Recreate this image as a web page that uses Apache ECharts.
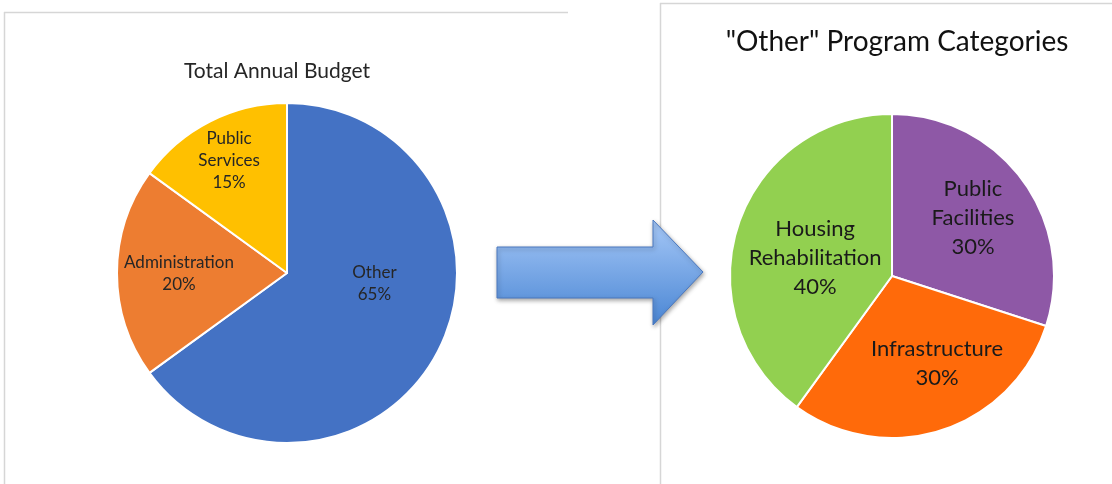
<!DOCTYPE html>
<html>
<head>
<meta charset="utf-8">
<script src="https://cdn.jsdelivr.net/npm/echarts@6/dist/echarts.min.js"></script>
<style>
html,body{margin:0;padding:0;background:#fff;}
#chart{width:1112px;height:484px;}
</style>
</head>
<body>
<div id="chart"></div>
<script>
// Data
var leftTitle = 'Total Annual Budget';
var leftCategories = ['Other', 'Administration', 'Public\nServices'];
var leftValues = [65, 20, 15];
var rightTitle = '"Other" Program Categories';
var rightCategories = ['Public\nFacilities', 'Infrastructure', 'Housing\nRehabilitation'];
var rightValues = [30, 30, 40];

// Styles (kept separate from data)
var leftColors = ['#4472C4', '#ED7D31', '#FFC000'];
var rightColors = ['#8E58A6', '#FF6A0A', '#92D050'];
var leftOffsets = [[9, -29], [-20, 1], [-18, -34]];
var rightOffsets = [[13, -9], [19, 8], [3, 8]];

function build(cats, vals, colors, offsets) {
  return cats.map(function (c, i) {
    return {
      name: c,
      value: vals[i],
      itemStyle: { color: colors[i] },
      label: { offset: offsets[i] }
    };
  });
}

var chart = echarts.init(document.getElementById('chart'), null, { renderer: 'canvas' });
var font = 'Lato, "Open Sans", sans-serif';

chart.setOption({
  backgroundColor: '#ffffff',
  animation: false,
  title: [
    {
      text: leftTitle, left: 272, top: 56, textAlign: 'center',
      textStyle: { fontFamily: font, fontSize: 21, fontWeight: 'normal', color: '#262626' }
    },
    {
      text: rightTitle, left: 892, top: 23, textAlign: 'center',
      textStyle: { fontFamily: font, fontSize: 28, fontWeight: 'normal', color: '#111111' }
    }
  ],
  graphic: [
    { type: 'line', shape: { x1: 4, y1: 12.5, x2: 568, y2: 12.5 }, style: { stroke: '#d6d6d6', lineWidth: 1.5 }, z: 0 },
    { type: 'line', shape: { x1: 4.5, y1: 12, x2: 4.5, y2: 484 }, style: { stroke: '#d6d6d6', lineWidth: 1.5 }, z: 0 },
    { type: 'line', shape: { x1: 660, y1: 3.5, x2: 1112, y2: 3.5 }, style: { stroke: '#d6d6d6', lineWidth: 1.5 }, z: 0 },
    { type: 'line', shape: { x1: 660.5, y1: 3, x2: 660.5, y2: 484 }, style: { stroke: '#d6d6d6', lineWidth: 1.5 }, z: 0 },
    {
      type: 'polygon', z: 100,
      shape: { points: [[497, 247], [653, 247], [653, 220], [703, 272], [653, 325], [653, 298], [497, 298]] },
      style: {
        fill: new echarts.graphic.LinearGradient(0, 0, 0, 1, [
          { offset: 0, color: '#a6c8f7' },
          { offset: 1, color: '#4a86d4' }
        ]),
        stroke: '#4a78c0', lineWidth: 1,
        shadowBlur: 4, shadowOffsetX: 1, shadowOffsetY: 2, shadowColor: 'rgba(0,0,0,0.35)'
      }
    }
  ],
  series: [
    {
      type: 'pie',
      center: [287, 273],
      radius: [0, 170],
      startAngle: 90,
      clockwise: true,
      avoidLabelOverlap: false,
      itemStyle: { borderColor: '#ffffff', borderWidth: 2 },
      label: {
        show: true, position: 'inside',
        formatter: function (p) { return p.name + '\n' + p.value + '%'; },
        fontFamily: font, fontSize: 17, lineHeight: 22, color: '#262626'
      },
      labelLine: { show: false },
      emphasis: { disabled: true },
      data: build(leftCategories, leftValues, leftColors, leftOffsets)
    },
    {
      type: 'pie',
      center: [892, 276],
      radius: [0, 162],
      startAngle: 90,
      clockwise: true,
      avoidLabelOverlap: false,
      itemStyle: { borderColor: '#ffffff', borderWidth: 2 },
      label: {
        show: true, position: 'inside',
        formatter: function (p) { return p.name + '\n' + p.value + '%'; },
        fontFamily: font, fontSize: 22, lineHeight: 29, color: '#1a1a1a'
      },
      labelLine: { show: false },
      emphasis: { disabled: true },
      data: build(rightCategories, rightValues, rightColors, rightOffsets)
    }
  ]
});
</script>
</body>
</html>
